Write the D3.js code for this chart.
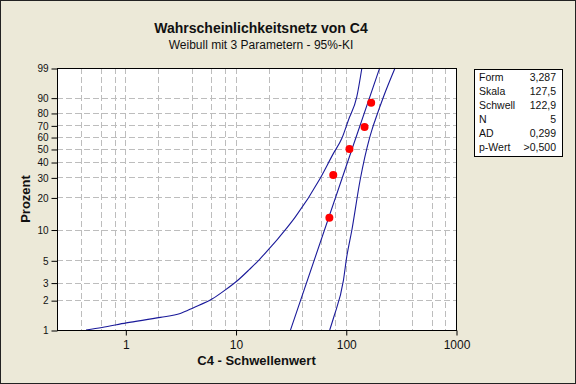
<!DOCTYPE html>
<html>
<head>
<meta charset="utf-8">
<script src="https://cdn.jsdelivr.net/npm/d3@7"></script>
<style>
  body { margin: 0; background: #ECE9D8; }
  text { font-family: "Liberation Sans", Arial, sans-serif; }
</style>
</head>
<body>
<div id="chart"></div>
<script>
// data values: C4 minus threshold, percent
var pointValues = [71, 77, 108, 148, 170];
var pointPercents = [12.96, 31.48, 50, 68.52, 87.04];

// fitted line (straight on this paper)
var fitValues = [31.5, 114, 203];
var fitPercents = [1, 50, 99];

// 95% confidence bounds
var lowerValues = [0.44, 0.615, 1.02, 2.08, 3.15, 4.16, 6.11, 8.07, 10.3, 13.4, 16.3, 20.3, 24, 27.4, 34.9, 58.5, 77.3, 92.2, 105.8, 126, 140];
var lowerPercents = [1, 1.06, 1.18, 1.34, 1.47, 1.68, 2.05, 2.53, 3.11, 4.07, 5.03, 6.56, 8.04, 9.53, 13.2, 29.4, 46.5, 58.9, 74.5, 90.5, 99];
var upperValues = [71.5, 78, 95.3, 102, 113.6, 135, 164, 172.5, 185, 220, 280];
var upperPercents = [1, 1.36, 3.18, 5.4, 9.9, 28.5, 58.9, 66, 74.5, 90.5, 99];

var yTicks = [1, 2, 3, 5, 10, 20, 30, 40, 50, 60, 70, 80, 90, 99];
var yGrid = [2, 3, 5, 10, 20, 30, 40, 50, 60, 70, 80, 90];
var xTicks = [1, 10, 100, 1000];
var xGrid = [0.4, 0.6, 0.8, 1, 2, 4, 6, 8, 10, 20, 40, 60, 80, 100, 200, 400, 600, 800];

var statLabels = ["Form", "Skala", "Schwell", "N", "AD", "p-Wert"];
var statValues = ["3,287", "127,5", "122,9", "5", "0,299", ">0,500"];

var W = 576, H = 384;
var plot = {left: 57, right: 456, top: 68, bottom: 330};

// weibull probability transform
function wb(p) { return Math.log(-Math.log(1 - p / 100)); }

var x = d3.scaleLog().domain([0.24, 1000]).range([plot.left, plot.right]);
var y = d3.scaleLinear().domain([wb(1), wb(99)]).range([plot.bottom, plot.top]);

var svg = d3.select("#chart").append("svg")
    .attr("width", W).attr("height", H);

svg.append("rect").attr("x", 0.5).attr("y", 0.5)
    .attr("width", W - 1).attr("height", H - 1)
    .attr("fill", "#ECE9D8").attr("stroke", "#222");

// titles
svg.append("text").attr("x", 261).attr("y", 33)
    .attr("text-anchor", "middle").attr("font-size", 14).attr("font-weight", "bold")
    .attr("fill", "#111").text("Wahrscheinlichkeitsnetz von C4");
svg.append("text").attr("x", 261).attr("y", 49)
    .attr("text-anchor", "middle").attr("font-size", 12)
    .attr("fill", "#111").text("Weibull mit 3 Parametern - 95%-KI");

// plot background
svg.append("rect").attr("x", plot.left).attr("y", plot.top)
    .attr("width", plot.right - plot.left).attr("height", plot.bottom - plot.top)
    .attr("fill", "white");

var g = svg.append("g");

// grid
g.selectAll(".vgrid").data(xGrid).enter().append("line")
    .attr("x1", d => Math.round(x(d)) + 0.5).attr("x2", d => Math.round(x(d)) + 0.5)
    .attr("y1", plot.top).attr("y2", plot.bottom)
    .attr("stroke", "#BDBDBD").attr("stroke-dasharray", "6,3");
g.selectAll(".hgrid").data(yGrid).enter().append("line")
    .attr("x1", plot.left).attr("x2", plot.right)
    .attr("y1", d => Math.round(y(wb(d))) + 0.5).attr("y2", d => Math.round(y(wb(d))) + 0.5)
    .attr("stroke", "#BDBDBD").attr("stroke-dasharray", "6,3");

// curves
var line = d3.line()
    .x(d => x(d[0])).y(d => y(wb(d[1])))
    .curve(d3.curveMonotoneX);
var curves = [
  d3.zip(lowerValues, lowerPercents),
  d3.zip(fitValues, fitPercents),
  d3.zip(upperValues, upperPercents)
];
g.selectAll(".curve").data(curves).enter().append("path")
    .attr("d", line).attr("fill", "none")
    .attr("stroke", "#1A1A9A").attr("stroke-width", 1.1);

// points
g.selectAll(".pt").data(d3.zip(pointValues, pointPercents)).enter().append("circle")
    .attr("cx", d => x(d[0])).attr("cy", d => y(wb(d[1])))
    .attr("r", 4).attr("fill", "#FF0000");

// frame
svg.append("rect").attr("x", plot.left + 0.5).attr("y", plot.top + 0.5)
    .attr("width", plot.right - plot.left).attr("height", plot.bottom - plot.top)
    .attr("fill", "none").attr("stroke", "#000");

// y axis
var yAxis = svg.append("g").attr("transform", "translate(" + (plot.left + 0.5) + ",0.5)")
    .call(d3.axisLeft(y).tickValues(yTicks.map(wb))
      .tickFormat((d, i) => yTicks[i]).tickSize(6).tickSizeOuter(0));
yAxis.select(".domain").remove();
yAxis.selectAll("text").attr("font-size", 10).attr("fill", "#111")
    .attr("font-family", "Liberation Sans, Arial, sans-serif");
yAxis.selectAll("line").attr("stroke", "#000");

// x axis
var xAxis = svg.append("g").attr("transform", "translate(0.5," + (plot.bottom + 0.5) + ")")
    .call(d3.axisBottom(x).tickValues(xTicks).tickFormat(d3.format("d"))
      .tickSize(5).tickSizeOuter(0));
xAxis.select(".domain").remove();
xAxis.selectAll("text").attr("font-size", 12).attr("fill", "#111")
    .attr("font-family", "Liberation Sans, Arial, sans-serif").attr("dy", "0.9em");
xAxis.selectAll("line").attr("stroke", "#000");

// axis titles
svg.append("text").attr("x", (plot.left + plot.right) / 2).attr("y", 365)
    .attr("text-anchor", "middle").attr("font-size", 13).attr("font-weight", "bold")
    .attr("fill", "#111").text("C4 - Schwellenwert");
svg.append("text")
    .attr("transform", "translate(30," + ((plot.top + plot.bottom) / 2) + ") rotate(-90)")
    .attr("text-anchor", "middle").attr("font-size", 13).attr("font-weight", "bold")
    .attr("fill", "#111").text("Prozent");

// statistics box
var box = svg.append("g").attr("transform", "translate(474,69)");
box.append("rect").attr("x", 0.5).attr("y", 0.5).attr("width", 88).attr("height", 87)
    .attr("fill", "white").attr("stroke", "#000");
box.selectAll(".lab").data(statLabels).enter().append("text")
    .attr("x", 5).attr("y", (d, i) => 12 + i * 13.9)
    .attr("font-size", 10.5).attr("fill", "#111").text(d => d);
box.selectAll(".val").data(statValues).enter().append("text")
    .attr("x", 82).attr("y", (d, i) => 12 + i * 13.9)
    .attr("text-anchor", "end").attr("font-size", 10.5).attr("fill", "#111").text(d => d);
</script>
</body>
</html>
